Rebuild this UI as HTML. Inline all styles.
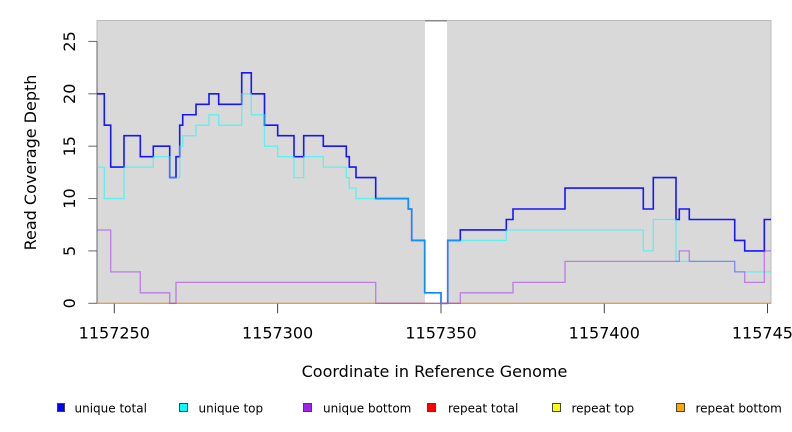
<!DOCTYPE html>
<html>
<head>
<meta charset="utf-8">
<style>
  html, body { margin: 0; padding: 0; background: #ffffff; }
  svg { display: block; }
  text { font-family: "DejaVu Sans", "Liberation Sans", sans-serif; fill: #000; }
</style>
</head>
<body>
<svg width="792" height="432" viewBox="0 0 792 432" xmlns="http://www.w3.org/2000/svg">
  <rect x="0" y="0" width="792" height="432" fill="#ffffff"/>

  <!-- plot background -->
  <rect x="97" y="20.5" width="674" height="282.8" fill="#d9d9d9" stroke="#bbbbbb" stroke-width="1"/>
  <!-- gap -->
  <rect x="425" y="20.5" width="22" height="282.8" fill="#ffffff"/>
  <line x1="425" y1="20.8" x2="447" y2="20.8" stroke="#888888" stroke-width="1.5"/>

  <!-- y axis -->
  <line x1="97" y1="41.4" x2="97" y2="303.3" stroke="#666666" stroke-width="1"/>
  <g stroke="#666666" stroke-width="1">
    <line x1="88.3" y1="303.3" x2="97" y2="303.3"/>
    <line x1="88.3" y1="250.9" x2="97" y2="250.9"/>
    <line x1="88.3" y1="198.55" x2="97" y2="198.55"/>
    <line x1="88.3" y1="146.2" x2="97" y2="146.2"/>
    <line x1="88.3" y1="93.8" x2="97" y2="93.8"/>
    <line x1="88.3" y1="41.4" x2="97" y2="41.4"/>
  </g>
  <g font-size="16" text-anchor="middle">
    <text transform="translate(75,303.3) rotate(-90)">0</text>
    <text transform="translate(75,250.9) rotate(-90)">5</text>
    <text transform="translate(75,198.55) rotate(-90)">10</text>
    <text transform="translate(75,146.2) rotate(-90)">15</text>
    <text transform="translate(75,93.8) rotate(-90)">20</text>
    <text transform="translate(75,41.4) rotate(-90)">25</text>
  </g>
  <text font-size="16" text-anchor="middle" transform="translate(36,162.5) rotate(-90)">Read Coverage Depth</text>

  <!-- x axis ticks -->
  <g stroke="#444444" stroke-width="1">
    <line x1="114.3" y1="303.3" x2="114.3" y2="313.3"/>
    <line x1="277.6" y1="303.3" x2="277.6" y2="313.3"/>
    <line x1="604.3" y1="303.3" x2="604.3" y2="313.3"/>
    <line x1="767.5" y1="303.3" x2="767.5" y2="313.3"/>
  </g>
  <line x1="441" y1="303.3" x2="441" y2="313.3" stroke="#888888" stroke-width="1.5"/>
  <g font-size="16" text-anchor="middle">
    <text x="114.3" y="338.3">1157250</text>
    <text x="277.6" y="338.3">1157300</text>
    <text x="441" y="338.3">1157350</text>
    <text x="604.3" y="338.3">1157400</text>
    <text x="767.5" y="338.3">1157450</text>
  </g>
  <text x="434.5" y="377" font-size="16" text-anchor="middle">Coordinate in Reference Genome</text>

  <!-- series -->
  <path fill="none" stroke="rgba(0,0,255,0.9)" stroke-width="1.6" d="M97 93.8 H104.3 V125.2 H110.7 V167.1 H124 V135.7 H140.3 V156.65 H153.3 V146.2 H169.7 V177.6 H176 V156.65 H179.7 V125.2 H182.7 V114.75 H196 V104.3 H209 V93.8 H218.7 V104.3 H241.7 V72.85 H251.3 V93.8 H264.5 V125.2 H277.7 V135.7 H294 V156.65 H303.7 V135.7 H323.3 V146.2 H346.3 V156.65 H349.3 V167.1 H356 V177.6 H375.7 V198.55 H408.3 V209 H411.7 V240.45 H424.7 V292.8 H441 V303.3 H447.7 V240.45 H460.3 V229.97 H506.3 V219.5 H513 V209 H565 V188.1 H643.3 V209 H653.3 V177.6 H676 V219.5 H679.3 V209 H689.3 V219.5 H734.7 V240.45 H744.7 V250.9 H764.3 V219.5 H771"/>
  <path fill="none" stroke="rgba(0,255,255,0.55)" stroke-width="1.3" d="M97 167.1 H104.3 V198.55 H124 V167.1 H153.3 V156.65 H169.7 V177.6 H179.7 V146.2 H182.7 V135.7 H196 V125.2 H209 V114.75 H218.7 V125.2 H241.7 V93.8 H251.3 V114.75 H264.5 V146.2 H277.7 V156.65 H294 V177.6 H303.7 V156.65 H323.3 V167.1 H346.3 V177.6 H349.3 V188.1 H356 V198.55 H408.3 V209 H411.7 V240.45 H424.7 V292.8 H441 V303.3 H447.7 V240.45 H506.3 V229.97 H643.3 V250.9 H653.3 V219.5 H676 V261.4 H734.7 V271.9 H771"/>
  <line x1="97" y1="303.3" x2="771" y2="303.3" stroke="rgba(255,140,0,0.85)" stroke-width="1.2"/>
  <path fill="none" stroke="rgba(160,32,240,0.5)" stroke-width="1.3" d="M97 229.97 H110.7 V271.9 H140.3 V292.8 H169.7 V303.3 H176 V282.35 H375.7 V303.3 H460.3 V292.8 H513 V282.35 H565 V261.4 H679.3 V250.9 H689.3 V261.4 H734.7 V271.9 H744.7 V282.35 H764.3 V250.9 H771"/>

  <!-- legend -->
  <g stroke="#444444" stroke-width="1">
    <rect x="57.5" y="403.5" width="7" height="8" fill="#0000ff"/>
    <rect x="179.5" y="403.5" width="8" height="8" fill="#00ffff"/>
    <rect x="303.5" y="403.5" width="8" height="8" fill="#a020f0"/>
    <rect x="427.5" y="403.5" width="8" height="8" fill="#ff0000"/>
    <rect x="552.5" y="403.5" width="8" height="8" fill="#ffff00"/>
    <rect x="676.5" y="403.5" width="8" height="8" fill="#ffa500"/>
  </g>
  <g font-size="12">
    <text x="74.5" y="412.5">unique total</text>
    <text x="198.5" y="412.5">unique top</text>
    <text x="323" y="412.5">unique bottom</text>
    <text x="448" y="412.5">repeat total</text>
    <text x="571.5" y="412.5">repeat top</text>
    <text x="695.5" y="412.5">repeat bottom</text>
  </g>
</svg>
</body>
</html>
